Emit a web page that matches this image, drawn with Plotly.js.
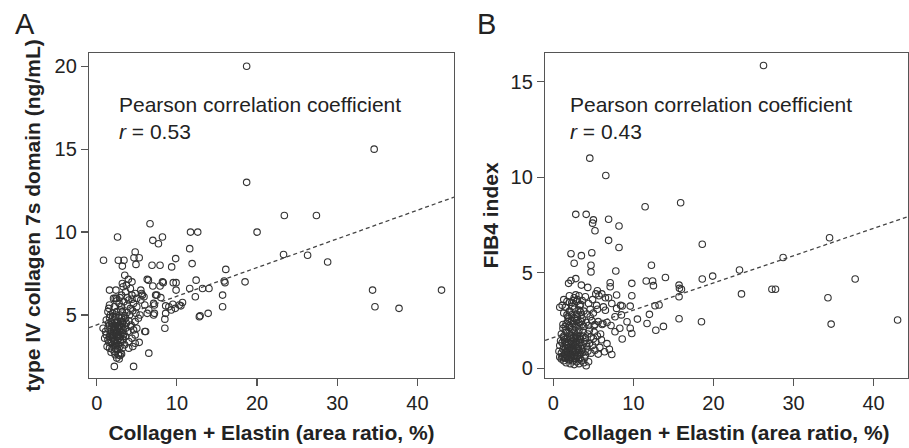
<!DOCTYPE html>
<html>
<head>
<meta charset="utf-8">
<script src="https://cdn.plot.ly/plotly-3.0.1.min.js"></script>
<style>html,body{margin:0;padding:0;background:#fff;}#chart{width:909px;height:448px;}</style>
</head>
<body>
<div id="chart"></div>
<script>
// ---------- Panel A: type IV collagen 7s domain vs Collagen + Elastin ----------
const xA = [
  18.7,34.6,18.7,23.4,27.4,20.0,11.7,12.6,23.3,26.3,28.8,18.5,34.4,34.7,37.7,43.0,
  16.1,15.9,16.0,15.7,15.7,14.0,13.9,12.8,12.9,13.2,12.4,12.3,11.9,11.6,11.6,10.7,
  9.85,9.55,9.35,9.9,9.9,9.5,9.3,9.8,8.6,8.5,8.5,8.3,8.2,7.7,7.0,6.65,7.9,6.9,6.45,7.0,7.9,7.5,7.1,7.2,7.1,6.1,6.5,4.6,2.2,0.85,2.6,1.6,
  4.8,2.7,3.4,4.65,5.3,4.9,3.2,3.5,3.95,4.4,3.2,5.5,5.7,6.3,8.2,8.0,7.35,2.3,2.9,3.8,7.2,9.0,10.3,8.6,10.5,
  2.5,2.8,2.9,2.7,3.0,2.2,1.8,2.6,3.1,
  1.3,1.6,2.0,2.3,2.5,2.9,3.2,3.5,4.0,4.5,4.8,5.3,1.9,2.4,2.2,3.0,
  1.0,1.4,1.6,1.8,2.0,2.1,2.3,2.5,2.6,2.8,3.0,3.3,3.6,4.0,4.4,4.8,1.2,2.7,2.4,1.9,3.4,
  0.8,1.1,1.4,1.7,1.9,2.1,2.3,2.5,2.7,2.9,3.1,3.3,3.6,3.9,4.2,4.6,5.0,6.0,2.2,2.6,1.6,
  1.2,1.5,1.8,2.0,2.2,2.4,2.6,2.8,3.0,3.2,3.4,3.7,4.0,4.3,4.8,5.2,1.6,
  1.4,1.7,2.0,2.3,2.5,2.9,3.2,3.5,3.8,4.1,4.5,4.9,5.4,6.3,1.5,3.0,
  1.6,2.2,2.8,3.1,3.4,3.8,4.2,4.6,5.0,5.5,6.0,2.5,4.0,4.4,6.5,
  2.1,2.5,3.1,3.6,4.4,5.0,4.2,3.3,3.7,4.8,5.9,5.6,2.4,
  1.8,2.1,2.4,2.7,3.0,3.3,1.7,2.0,2.3,2.6,2.9,3.2,1.9,2.2,2.5,2.8,3.1,2.0,2.4,2.8,3.2,1.5,2.6,3.6,2.3
];
const yA = [
  20.0,15.0,13.0,11.0,11.0,10.0,10.0,10.0,8.65,8.6,8.2,7.0,6.5,5.5,5.4,6.5,
  7.75,7.05,6.95,6.2,5.5,6.6,5.1,4.9,4.95,6.6,7.1,6.1,8.1,9.0,6.6,5.75,
  8.4,6.95,7.9,6.95,6.5,5.65,5.3,5.4,5.55,4.75,4.2,6.95,9.7,9.3,9.5,10.5,8.0,8.0,7.1,6.75,6.75,6.2,5.7,5.1,5.0,4.0,2.7,1.9,1.9,8.3,9.7,6.5,
  8.8,8.3,8.3,8.45,8.45,8.05,7.95,7.4,7.15,7.0,6.9,6.5,6.2,7.15,7.0,6.05,6.2,6.0,6.05,6.05,5.6,5.5,5.6,5.1,5.55,
  2.4,2.35,2.55,2.6,2.7,2.8,2.75,2.9,2.65,
  3.1,3.0,3.2,3.0,3.25,3.1,3.0,3.2,3.0,3.1,3.3,3.35,2.95,3.15,3.4,3.35,
  3.6,3.5,3.7,3.4,3.6,3.8,3.5,3.7,3.45,3.6,3.8,3.5,3.7,3.4,3.6,3.8,3.8,3.75,3.9,3.75,3.85,
  4.2,4.0,4.2,4.0,4.3,4.1,4.25,4.0,4.2,4.0,4.3,4.1,4.2,4.0,4.3,4.1,4.2,4.0,3.95,4.35,4.4,
  4.7,4.5,4.6,4.45,4.7,4.5,4.65,4.4,4.6,4.45,4.7,4.5,4.65,4.4,4.6,4.8,4.85,
  5.2,5.0,5.1,4.9,5.2,5.0,5.2,4.95,5.15,5.0,5.25,5.1,5.0,5.1,5.4,5.3,
  5.6,5.5,5.7,5.5,5.8,5.6,5.4,5.7,5.5,5.9,5.6,5.85,5.9,5.95,5.3,
  6.0,6.0,6.2,6.4,6.2,6.0,6.6,6.7,6.8,6.3,6.1,6.3,6.5,
  3.3,3.45,3.3,3.2,3.5,3.7,3.9,3.85,4.1,3.95,4.15,3.95,4.5,4.35,4.55,4.3,4.8,4.9,5.0,4.85,4.6,3.35,2.95,4.8,2.6
];
const fitA = [4.4, 0.173];   // intercept, slope of the dashed regression line
const rA = "0.53";

// ---------- Panel B: FIB4 index vs Collagen + Elastin ----------
const xB = [
  26.25,4.55,6.55,11.46,15.9,2.8,4.1,5.0,4.9,5.2,6.9,8.2,6.9,8.2,18.6,34.5,28.7,23.25,19.9,18.6,37.7,23.5,27.3,27.75,34.3,34.7,43.0,18.5,15.7,
  2.2,3.5,2.6,4.8,4.7,4.7,7.8,12.25,11.6,12.4,12.5,14.0,9.8,9.8,7.1,7.1,15.7,15.75,16.0,15.7,12.7,13.2,12.0,10.5,11.7,12.8,13.75,9.6,9.2,9.6,9.8,8.6,8.3,7.7,8.4,7.9,7.9,7.3,6.4,4.1,
  2.8,2.2,1.9,4.3,5.5,6.05,6.5,6.9,6.25,6.5,7.3,8.6,7.7,8.5,7.2,6.7,6.2,5.9,6.0,6.7,7.0,5.8,3.5,
  1.0,1.3,1.6,1.9,2.1,2.4,2.6,2.9,3.2,3.5,3.8,1.5,2.2,2.8,3.3,4.4,0.8,1.2,
  0.7,1.0,1.2,1.4,1.6,1.8,2.0,2.2,2.4,2.6,2.8,3.0,3.2,3.4,3.7,4.0,4.3,4.7,5.2,5.6,1.5,2.5,3.5,1.1,2.3,3.9,
  0.8,1.1,1.3,1.5,1.7,1.9,2.1,2.3,2.5,2.7,2.9,3.1,3.3,3.6,3.9,4.2,4.5,4.9,5.3,1.4,2.2,3.0,0.9,
  1.0,1.3,1.6,1.8,2.0,2.3,2.6,2.8,3.1,3.4,3.7,4.0,4.3,4.7,5.1,5.5,1.5,2.4,3.2,
  1.2,1.5,1.8,2.0,2.3,2.6,2.9,3.2,3.5,3.8,4.1,4.4,4.8,5.2,5.6,6.1,2.7,1.9,3.6,
  1.3,1.7,2.0,2.3,2.6,2.9,3.2,3.5,3.8,4.2,4.6,5.0,5.5,0.8,1.5,2.4,3.3,
  1.3,1.7,2.0,2.3,2.6,2.9,3.2,3.6,4.0,4.4,4.9,5.3,5.7,1.1,2.8,3.4,
  1.4,1.7,2.0,2.3,2.6,2.9,3.2,1.5,1.8,2.1,2.4,2.7,3.0,3.3,3.6,1.6,1.9,2.2,2.5,2.8,3.1,3.4,
  1.3,1.7,2.1,2.5,2.9,3.3,3.7,4.1,1.2,1.6,2.0,2.4,2.8,3.2,3.6,1.8,2.2,2.6,3.0,3.4,2.0,2.5,3.0,4.5,5.0,4.6,5.1,5.4
];
const yB = [
  15.85,11.0,10.09,8.46,8.67,8.06,8.06,7.77,7.6,7.2,7.8,7.45,6.7,6.33,6.5,6.84,5.8,5.15,4.83,4.68,4.68,3.9,4.14,4.14,3.7,2.32,2.53,2.44,2.6,
  6.0,5.9,5.5,6.05,5.4,5.05,5.1,5.4,4.57,4.57,4.33,4.76,4.45,3.8,4.48,4.27,4.36,4.19,4.14,3.75,3.28,3.32,2.83,2.58,2.35,2.0,2.2,3.26,2.44,2.1,1.83,1.54,2.1,1.92,3.3,3.14,3.84,0.73,0.87,0.14,
  4.7,4.6,4.45,4.24,4.06,3.9,3.7,3.7,3.22,3.04,3.4,3.27,2.7,2.8,2.25,2.4,2.35,1.8,1.5,1.3,1.0,1.1,4.36,
  0.5,0.4,0.3,0.45,0.25,0.4,0.2,0.35,0.25,0.4,0.3,0.55,0.55,0.5,0.5,0.35,0.6,0.65,
  0.9,0.8,1.0,0.75,0.9,0.7,0.95,0.75,0.9,0.7,0.85,0.65,0.95,0.75,0.85,0.7,0.9,0.8,0.95,0.75,1.05,1.0,1.05,0.6,0.6,0.55,
  1.2,1.35,1.15,1.4,1.2,1.35,1.1,1.3,1.45,1.2,1.4,1.15,1.35,1.2,1.4,1.15,1.3,1.2,1.4,1.5,1.55,1.55,1.45,
  1.8,1.7,1.9,1.65,1.85,1.7,1.9,1.65,1.85,1.7,1.9,1.6,1.8,1.65,1.9,1.7,2.0,2.05,2.0,
  2.3,2.2,2.45,2.25,2.5,2.3,2.5,2.25,2.45,2.2,2.4,2.25,2.5,2.3,2.45,2.3,2.6,2.6,2.6,
  2.9,2.8,3.0,2.8,3.1,2.85,3.05,2.8,3.0,2.85,3.1,2.9,3.1,3.2,3.2,3.25,3.3,
  3.6,3.5,3.8,3.45,3.7,3.5,3.8,3.55,3.75,3.4,3.6,3.9,3.8,3.3,3.85,3.35,
  0.55,0.6,0.5,0.65,0.55,0.6,0.7,0.85,0.95,0.8,1.05,0.9,1.0,0.85,0.95,1.25,1.1,1.4,1.25,1.35,1.05,1.5,
  1.6,1.55,1.75,1.6,1.75,1.55,1.7,1.3,2.1,2.35,2.15,2.35,2.15,2.4,2.3,2.7,2.95,2.65,2.7,2.95,3.45,3.55,3.6,2.0,1.55,2.7,2.25,3.3
];
const fitB = [1.62, 0.1426];
const rB = "0.43";

const xTicks = [0, 10, 20, 30, 40];
const yTicksA = [5, 10, 15, 20];
const yTicksB = [0, 5, 10, 15];
const xTitle = "Collagen + Elastin (area ratio, %)";
const yTitleA = "type IV collagen 7s domain (ng/mL)";
const yTitleB = "FIB4 index";
const noteText = "Pearson correlation coefficient";

// ---------- styling ----------
const FONT = "'Liberation Sans', Arial, Helvetica, sans-serif";
const INK = "#222";
const AXC = "#555";
const rangeXA = [-0.96, 44.55], rangeYA = [1.2, 20.8];
const rangeXB = [-1.04, 44.3], rangeYB = [-0.5, 16.5];

const markerStyle = {symbol: "circle-open", size: 6.5, color: "#333", line: {width: 1.1, color: "#333"}};
function fitLine(fit, rng, xa, ya) {
  return {x: rng, y: rng.map(v => fit[0] + fit[1] * v), xaxis: xa, yaxis: ya, mode: "lines",
          line: {color: "#444", width: 1.3, dash: "4px,3px"}, hoverinfo: "skip", showlegend: false};
}

const data = [
  {x: xA, y: yA, xaxis: "x", yaxis: "y", type: "scatter", mode: "markers", marker: markerStyle, showlegend: false},
  fitLine(fitA, rangeXA, "x", "y"),
  {x: xB, y: yB, xaxis: "x2", yaxis: "y2", type: "scatter", mode: "markers", marker: markerStyle, showlegend: false},
  fitLine(fitB, rangeXB, "x2", "y2")
];

function axisBase() {
  return {showgrid: false, zeroline: false, showline: true, mirror: true, linecolor: AXC, linewidth: 1.2,
          ticks: "outside", ticklen: 7, tickwidth: 1.2, tickcolor: AXC,
          tickfont: {family: FONT, size: 20, color: INK}, fixedrange: true};
}
const titleFont = {family: FONT, size: 21, color: INK, weight: "bold"};

const layout = {
  width: 909, height: 448,
  margin: {l: 0, r: 0, t: 0, b: 0},
  paper_bgcolor: "#fff", plot_bgcolor: "#fff",
  showlegend: false,
  xaxis: Object.assign(axisBase(), {domain: [0.0979, 0.4994], range: rangeXA, tickvals: xTicks, anchor: "y",
          title: {text: xTitle, font: titleFont, standoff: 12}}),
  yaxis: Object.assign(axisBase(), {domain: [0.15625, 0.8817], range: rangeYA, tickvals: yTicksA, anchor: "x",
          title: {text: yTitleA, font: titleFont, standoff: 8}}),
  xaxis2: Object.assign(axisBase(), {domain: [0.5996, 0.9989], range: rangeXB, tickvals: xTicks, anchor: "y2",
          title: {text: xTitle, font: titleFont, standoff: 12}}),
  yaxis2: Object.assign(axisBase(), {domain: [0.15625, 0.8817], range: rangeYB, tickvals: yTicksB, anchor: "x2",
          title: {text: yTitleB, font: titleFont, standoff: 6}}),
  annotations: [
    {text: "A", xref: "paper", yref: "paper", x: 13/909, y: 1 - 6/448, xanchor: "left", yanchor: "top", showarrow: false,
     font: {family: FONT, size: 29, color: INK}},
    {text: "B", xref: "paper", yref: "paper", x: 475/909, y: 1 - 6/448, xanchor: "left", yanchor: "top", showarrow: false,
     font: {family: FONT, size: 29, color: INK}},
    {text: noteText, xref: "paper", yref: "paper", x: 117/909, y: 0.7663, xanchor: "left", yanchor: "middle", showarrow: false,
     font: {family: FONT, size: 21, color: INK}},
    {text: "<i>r</i> = " + rA, xref: "paper", yref: "paper", x: 117/909, y: 0.706, xanchor: "left", yanchor: "middle", showarrow: false,
     font: {family: FONT, size: 21, color: INK}},
    {text: noteText, xref: "paper", yref: "paper", x: 568/909, y: 0.7663, xanchor: "left", yanchor: "middle", showarrow: false,
     font: {family: FONT, size: 21, color: INK}},
    {text: "<i>r</i> = " + rB, xref: "paper", yref: "paper", x: 568/909, y: 0.706, xanchor: "left", yanchor: "middle", showarrow: false,
     font: {family: FONT, size: 21, color: INK}}
  ]
};

Plotly.newPlot("chart", data, layout, {staticPlot: true, displayModeBar: false});
</script>
</body>
</html>
